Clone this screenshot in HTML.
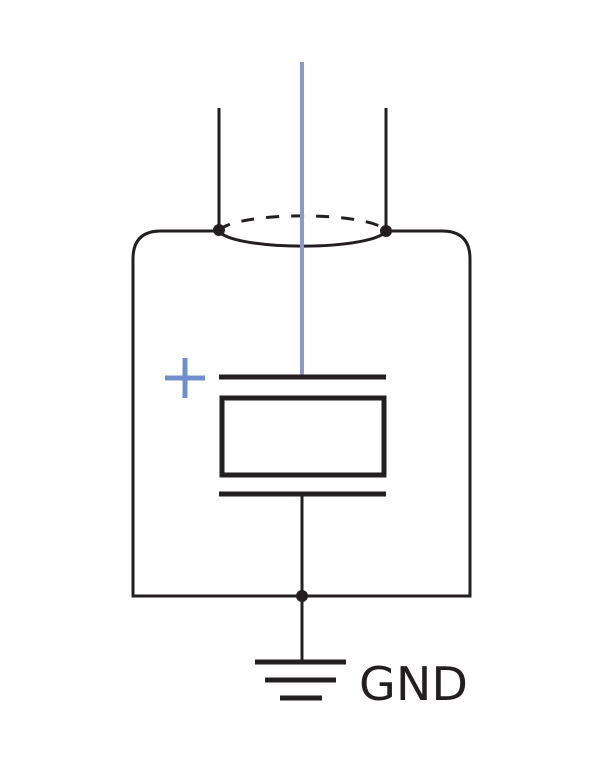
<!DOCTYPE html>
<html><head><style>html,body{margin:0;padding:0;background:#fff}</style></head>
<body>
<svg width="600" height="763" viewBox="0 0 600 763" xmlns="http://www.w3.org/2000/svg">
<g fill="none" stroke="#231f20" stroke-width="3">
<line x1="219" y1="108" x2="219" y2="231"/>
<line x1="386" y1="108" x2="386" y2="231"/>
<path d="M219 231 H161 Q133 231 133 259 V596 H470 V259 Q470 231 442 231 H386"/>
<path d="M219 231 A84 17 0 0 0 386 231"/>
<path d="M219 231 A84 17 0 0 1 386 231" stroke-dasharray="13 12"/>
<line x1="302" y1="494" x2="302" y2="662"/>
</g>
<line x1="302" y1="62" x2="302" y2="376" stroke="#8c9acb" stroke-width="4"/>
<g stroke="#231f20" stroke-width="5" fill="none">
<line x1="219" y1="377" x2="386" y2="377"/>
<rect x="222" y="398" width="162" height="77"/>
<line x1="219" y1="494" x2="386" y2="494"/>
<line x1="255" y1="662" x2="346" y2="662"/>
<line x1="265" y1="680" x2="336" y2="680"/>
<line x1="280" y1="698" x2="322" y2="698"/>
</g>
<g fill="#231f20">
<circle cx="219" cy="230" r="6"/>
<circle cx="386" cy="231" r="6"/>
<circle cx="302" cy="596" r="6"/>
</g>
<g stroke="#6f8fce" stroke-width="5">
<line x1="165" y1="378" x2="205" y2="378"/>
<line x1="185" y1="358" x2="185" y2="398"/>
</g>
<text x="359" y="700" font-family="'DejaVu Sans','Liberation Sans',sans-serif" font-size="46" fill="#231f20" textLength="109" lengthAdjust="spacingAndGlyphs">GND</text>
</svg>
</body></html>
